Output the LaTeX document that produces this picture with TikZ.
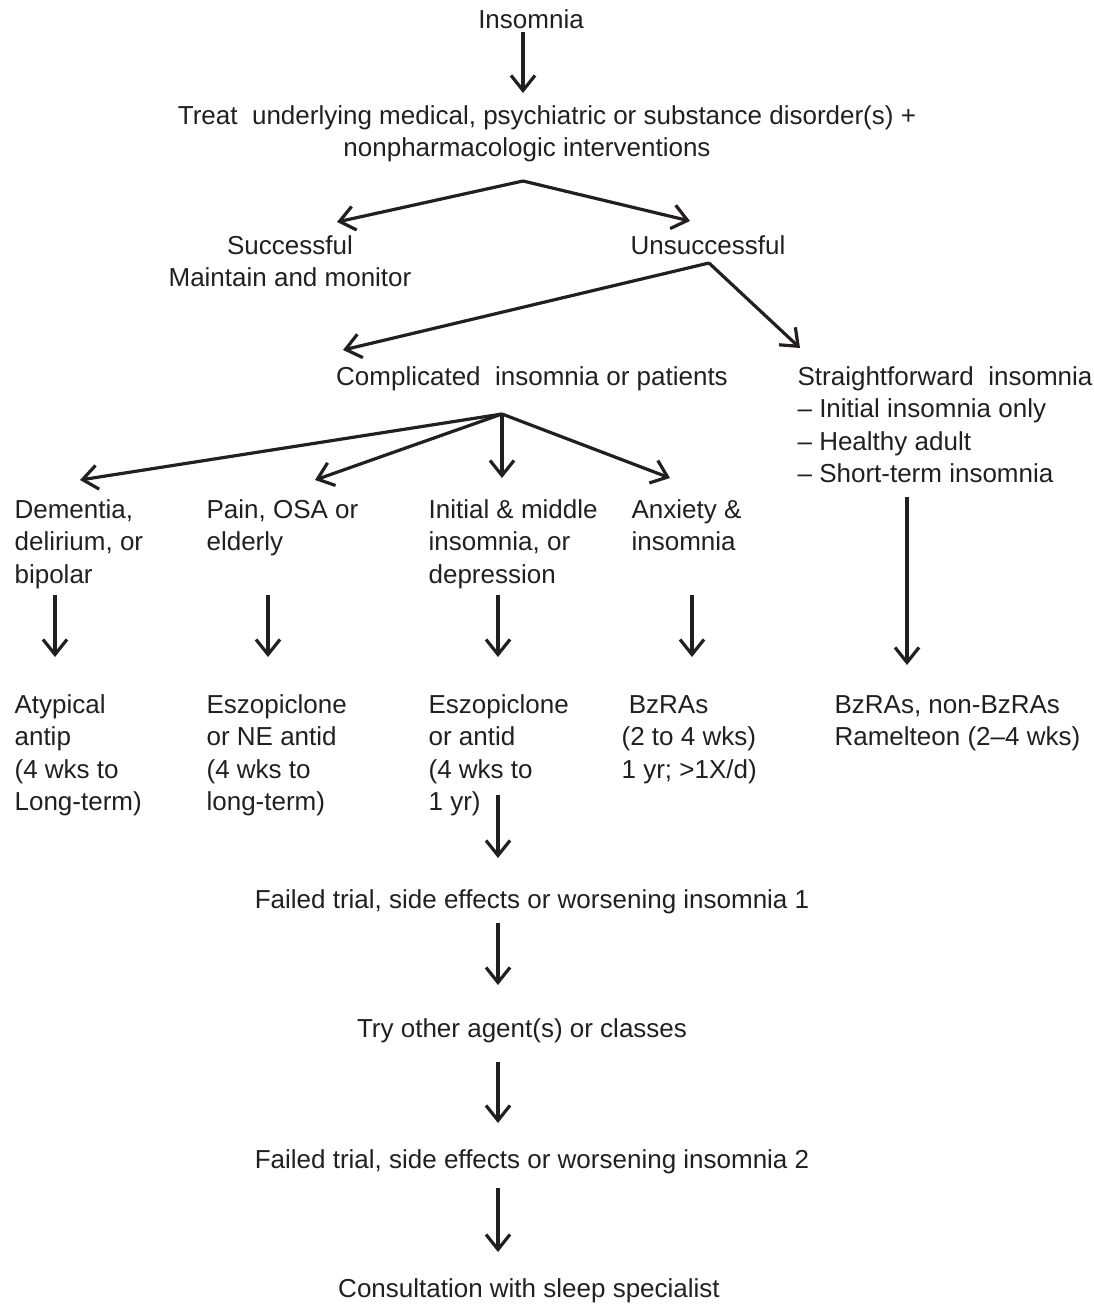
\documentclass[tikz,border=0pt]{standalone}
\usepackage{fontspec}
\setmainfont{Liberation Sans}
\usetikzlibrary{arrows.meta,positioning}
\definecolor{ink}{RGB}{35,31,32}
\begin{document}
\begin{tikzpicture}[x=1pt, y=-1pt, ink, line width=3.2pt,
  txt/.style = {font=\fontsize{26}{32.5}\selectfont, inner sep=0pt, align=left, anchor=base west},
  mid/.style = {txt, align=center, anchor=base},
  arr/.style = {-{Straight Barb[length=15pt,width=24pt]}}]
\useasboundingbox (0,0) rectangle (1093,1304);

% nodes sit on the baseline of their last line
\node[mid] (ins) at (531,28) {Insomnia};
\node[mid] (treat) at (547,156.5) {Treat~ underlying medical, psychiatric or substance disorder(s) +\\nonpharmacologic interventions\hspace*{40pt}};
\node[mid] (succ) at (290,286.5) {Successful\\Maintain and monitor};
\node[mid] (unsucc) at (708,254) {Unsuccessful};
\node[mid] (compl) at (532,385) {Complicated~ insomnia or patients};
\node[txt] (strf) at (796,482.5) {Straightforward~ insomnia\\– Initial insomnia only\\– Healthy adult\\– Short-term insomnia};

% indications
\node[txt] (dem) at (13,583) {Dementia,\\delirium, or\\bipolar};
\node[txt] (pain) at (205,550.5) {Pain, OSA or\\elderly};
\node[txt] (init) at (427,583) {Initial \& middle\\insomnia, or\\depression};
\node[txt] (anx) at (630,550.5) {Anxiety \&\\insomnia};

% agents
\node[txt] (atyp) at (13,810.5) {Atypical\\antip\\(4 wks to\\Long-term)};
\node[txt] (eszne) at (205,810.5) {Eszopiclone\\or NE antid\\(4 wks to\\long-term)};
\node[txt] (eszan) at (427,810.5) {Eszopiclone\\or antid\\(4 wks to\\1 yr)};
\node[txt] (bzra) at (620,778) {~BzRAs\\(2 to 4 wks)\\1 yr; >1X/d)};
\node[txt] (nonbz) at (833,745.5) {BzRAs, non-BzRAs\\Ramelteon (2–4 wks)};

\node[mid] (fail1) at (532,908) {Failed trial, side effects or worsening insomnia 1};
\node[mid] (try) at (522,1037) {Try other agent(s) or classes};
\node[mid] (fail2) at (532,1168) {Failed trial, side effects or worsening insomnia 2};
\node[mid] (cons) at (529,1297) {Consultation with sleep specialist};

% split points and arrow ends
\coordinate (s0a) at (523,32);  \coordinate (s0b) at (523,93);
\coordinate (s1) at (523,181);
\coordinate (s1l) at (337,222); \coordinate (s1r) at (690,221);
\coordinate (s2) at (709,263);
\coordinate (s2l) at (343,350); \coordinate (s2r) at (800,348);
\coordinate (s3) at (502,414);
\coordinate (s3a) at (80,480);  \coordinate (s3b) at (315,480);
\coordinate (s3c) at (502,478); \coordinate (s3d) at (670,478);

\draw[arr] (s0a) -- (s0b);
\draw[arr] (s1) -- (s1l);
\draw[arr] (s1) -- (s1r);
\draw[arr] (s2) -- (s2l);
\draw[arr] (s2) -- (s2r);
\foreach \t in {s3a,s3b,s3c,s3d}
  \draw[arr] (s3) -- (\t);

\foreach \x in {55,268,498,692}
  \draw[arr] (\x,595) -- (\x,657);
\draw[arr] (907,497) -- (907,665);
\draw[arr] (498,795) -- (498,858);
\draw[arr] (498,923) -- (498,985);
\draw[arr] (498,1062) -- (498,1123);
\draw[arr] (498,1188) -- (498,1252);
\end{tikzpicture}
\end{document}
